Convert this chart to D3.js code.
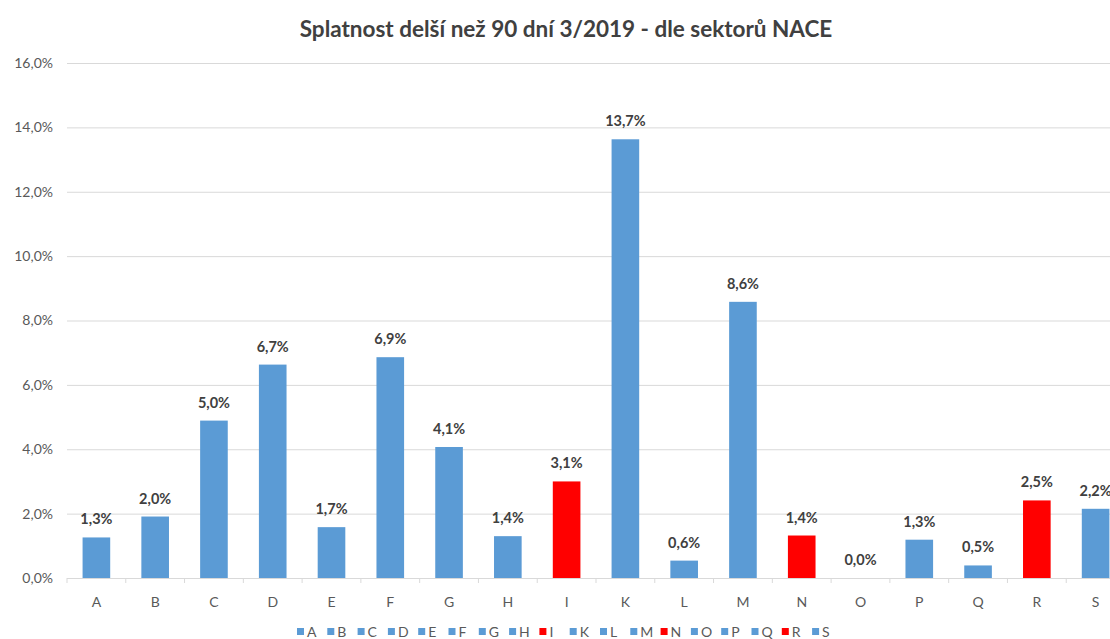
<!DOCTYPE html>
<html>
<head>
<meta charset="utf-8">
<script src="https://cdn.jsdelivr.net/npm/d3@7"></script>
<style>
  body { margin: 0; background: #fff; overflow: hidden; }
  svg { display: block; font-family: Lato, "Open Sans", sans-serif; }
</style>
</head>
<body>
<div id="chart"></div>
<script>
const categories = ['A', 'B', 'C', 'D', 'E', 'F', 'G', 'H', 'I', 'K', 'L', 'M', 'N', 'O', 'P', 'Q', 'R', 'S'];
// bar heights (%)
const values = [1.26, 1.91, 4.89, 6.63, 1.58, 6.86, 4.07, 1.3, 3.0, 13.63, 0.54, 8.58, 1.32, 0, 1.19, 0.39, 2.41, 2.15];
// data labels as printed on the chart
const labels = ['1,3%', '2,0%', '5,0%', '6,7%', '1,7%', '6,9%', '4,1%', '1,4%', '3,1%', '13,7%', '0,6%', '8,6%', '1,4%', '0,0%', '1,3%', '0,5%', '2,5%', '2,2%'];
const highlighted = ['I', 'N', 'R'];
const yTicks = [0, 2, 4, 6, 8, 10, 12, 14, 16];

const blue = '#5b9bd5', red = '#ff0000';
const color = c => highlighted.includes(c) ? red : blue;

const W = 1110, H = 639;
const plotL = 67, plotR = 1125, plotT = 63, plotB = 578;

const svg = d3.select('#chart').append('svg').attr('width', W).attr('height', H);

const x = d3.scaleBand().domain(categories).range([plotL, plotR]).paddingInner(0.53).paddingOuter(0.265);
const y = d3.scaleLinear().domain([0, 16]).range([plotB, plotT]);

svg.append('text')
  .attr('x', 566).attr('y', 37)
  .attr('text-anchor', 'middle')
  .style('font-size', '22.5px').style('font-weight', '700').style('fill', '#404040')
  .text('Splatnost delší než 90 dní 3/2019 - dle sektorů NACE');

// gridlines + y labels
const yAxis = svg.append('g').attr('transform', `translate(${plotL},0)`)
  .call(d3.axisLeft(y).tickValues(yTicks).tickSize(-(plotR - plotL)).tickPadding(14)
    .tickFormat(d => d.toFixed(1).replace('.', ',') + '%'));
yAxis.select('.domain').remove();
yAxis.selectAll('line').attr('stroke', '#d9d9d9');
yAxis.selectAll('text').style('fill', '#595959').style('font-size', '14px').style('font-family', 'Lato, sans-serif');

// x axis with ticks at band boundaries
const xAxis = svg.append('g').attr('transform', `translate(0,${plotB})`)
  .call(d3.axisBottom(x).tickSize(0).tickPadding(19));
xAxis.select('.domain').attr('stroke', '#d9d9d9').attr('d', `M${plotL},0.5H${plotR}`);
xAxis.selectAll('text').style('fill', '#595959').style('font-size', '14px').style('font-family', 'Lato, sans-serif');
svg.append('g').selectAll('line').data(categories).enter().append('line')
  .attr('x1', d => x(d) - x.step() * 0.265).attr('x2', d => x(d) - x.step() * 0.265)
  .attr('y1', plotB).attr('y2', plotB + 5)
  .attr('stroke', '#d9d9d9');

svg.selectAll('.bar').data(categories).enter().append('rect')
  .attr('x', d => x(d)).attr('width', x.bandwidth())
  .attr('y', (d, i) => y(values[i])).attr('height', (d, i) => plotB - y(values[i]))
  .attr('fill', d => color(d));

svg.selectAll('.lbl').data(categories).enter().append('text')
  .attr('x', d => x(d) + x.bandwidth() / 2)
  .attr('y', (d, i) => y(values[i]) - 13)
  .attr('text-anchor', 'middle')
  .style('font-size', '14.5px').style('font-weight', '700').style('fill', '#404040')
  .text((d, i) => labels[i]);

// legend
const lg = svg.append('g').attr('transform', 'translate(297,632)');
const item = lg.selectAll('g').data(categories).enter().append('g')
  .attr('transform', (d, i) => `translate(${i * 30.3},0)`);
item.append('rect').attr('x', 0).attr('y', -4).attr('width', 7).attr('height', 7).attr('fill', d => color(d));
item.append('text').attr('x', 10).attr('y', 5)
  .style('font-size', '14px').style('fill', '#595959')
  .text(d => d);
</script>
</body>
</html>
